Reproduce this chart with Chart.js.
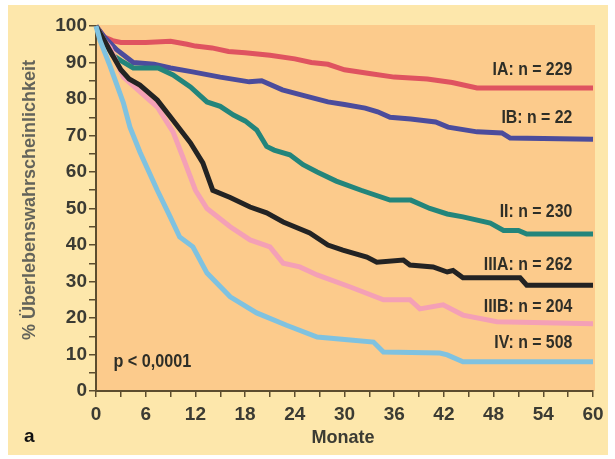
<!DOCTYPE html>
<html>
<head>
<meta charset="utf-8">
<script src="https://cdn.jsdelivr.net/npm/chart.js@4.4.1/dist/chart.umd.min.js"></script>
<style>
  html, body { margin: 0; padding: 0; background: #ffffff; }
  #wrap { position: relative; width: 615px; height: 459px; }
</style>
</head>
<body>
<div id="wrap"><canvas id="survChart" width="615" height="459"></canvas></div>
<script>
// Kaplan-Meier curves (months, % survival)
const iaMonths   = [0, 1, 2, 3, 6, 9, 11, 12, 14, 16, 18, 21, 24, 26, 28, 30, 33, 36, 40, 43, 46, 60];
const iaValues   = [100, 97, 96, 95.5, 95.5, 95.8, 95, 94.5, 94, 93, 92.7, 92, 91, 90, 89.5, 88, 87, 86, 85.5, 84.5, 83, 83];

const ibMonths   = [0, 1, 2.5, 4.5, 7, 9, 11.5, 15, 18.5, 20, 22.5, 25, 28, 30, 32.5, 34, 35.5, 38, 41, 42.5, 46, 49, 50, 60];
const ibValues   = [100, 97, 93.5, 90, 89.5, 88.5, 87.5, 86, 84.7, 85, 82.5, 81, 79.2, 78.5, 77.5, 76.5, 75, 74.5, 73.7, 72.3, 71, 70.7, 69.3, 69];

const iiMonths   = [0, 1, 2, 3, 4.5, 7.5, 9.3, 11.4, 13.4, 15, 16.6, 18, 19.4, 20.6, 21.5, 23.4, 25, 26.7, 29, 32, 35.5, 38, 40.3, 42.4, 44.3, 47.6, 49.2, 51, 52, 60];
const iiValues   = [100, 96, 92, 90.5, 88.5, 88.5, 86.6, 83.3, 79.2, 78, 75.6, 74, 71.5, 67, 66, 64.7, 62, 60, 57.5, 55, 52.3, 52.3, 50, 48.5, 47.7, 46, 44, 44, 43, 43];

const iiiaMonths = [0, 1, 2, 3, 4, 5.3, 7.4, 9.3, 11.4, 12.9, 14.1, 16.2, 18.6, 20.6, 22.6, 25.8, 28, 29.8, 32.7, 33.9, 37.1, 37.9, 40.7, 42.4, 43.1, 44.3, 51.2, 52, 60];
const iiiaValues = [100, 96, 92, 88, 85.5, 83.8, 79.7, 74.2, 68, 62.5, 55, 53, 50.4, 48.8, 46.3, 43.3, 40, 38.6, 36.7, 35.3, 35.9, 34.5, 34, 32.6, 33, 31, 31, 29, 29];

const iiibMonths = [0, 1, 1.7, 3.3, 5.3, 7.4, 9.3, 10.5, 12, 13.4, 16.2, 18.6, 21, 22.6, 24.6, 26.7, 30.7, 34.7, 37.9, 39.1, 41.9, 44.3, 48.4, 60];
const iiibValues = [100, 96, 94, 86, 82, 77.8, 71, 64, 55, 50, 45, 41.4, 39.5, 35, 34, 31.8, 28.5, 25, 25, 22.5, 23.6, 20.8, 19, 18.4];

const ivMonths   = [0, 0.5, 1.7, 3.3, 4.1, 5.3, 7.4, 8.9, 10.1, 11.7, 13.4, 16.2, 19.4, 23, 26.7, 30.7, 33.5, 34.7, 41.5, 42.4, 44.3, 60];
const ivValues   = [100, 96, 89, 79, 72.3, 65.5, 55, 48, 42.2, 39.5, 32.3, 25.8, 21.4, 18, 14.8, 14, 13.4, 10.7, 10.4, 9.9, 8, 8];

const seriesNames  = ['IA: n=229', 'IB: n=22', 'II: n=230', 'IIIA: n=262', 'IIIB: n=204', 'IV: n=508'];
const seriesColors = ['#df5360', '#4b4c9c', '#23857b', '#232323', '#f4a0b6', '#7fc2e0'];
// where the end labels sit (month of right edge, % value)
const labelMonth  = 57.5;
const labelValues = [88, 74.8, 49, 34.5, 23, 13.2];

const xTickLabels = [0, 6, 12, 18, 24, 30, 36, 42, 48, 54, 60];
const yTickLabels = [0, 10, 20, 30, 40, 50, 60, 70, 80, 90, 100];

const axisColor = '#5d4d2e';
const textColor = '#3b3b33';
const fontFam = '"Liberation Sans", Arial, sans-serif';

function toPoints(months, values) {
  return months.map((m, i) => ({ x: m, y: values[i] }));
}

// draws bold text squeezed horizontally, like the condensed face of the original
function condensedText(ctx, text, x, y, align, squeeze) {
  ctx.save();
  ctx.translate(x, y);
  ctx.scale(squeeze, 1);
  ctx.textAlign = align;
  ctx.fillText(text, 0, 0);
  ctx.restore();
}

const allMonths = [iaMonths, ibMonths, iiMonths, iiiaMonths, iiibMonths, ivMonths];
const allValues = [iaValues, ibValues, iiValues, iiiaValues, iiibValues, ivValues];
const drawOrder = [6, 5, 4, 2, 3, 1];

const datasets = seriesNames.map((name, i) => ({
  label: name,
  data: toPoints(allMonths[i], allValues[i]),
  borderColor: seriesColors[i],
  borderWidth: 5,
  pointRadius: 0,
  fill: false,
  tension: 0,
  clip: 8,
  order: drawOrder[i]
}));

const backdrop = {
  id: 'backdrop',
  beforeDraw(chart) {
    const ctx = chart.ctx;
    const a = chart.chartArea;
    ctx.save();
    ctx.fillStyle = '#fde7ab';
    ctx.fillRect(8, 5, 600, 450);
    ctx.fillStyle = '#fccb8c';
    ctx.fillRect(a.left, a.top - 1, a.right - a.left + 2, a.bottom - a.top + 1);
    ctx.restore();
  },
  afterDraw(chart) {
    const ctx = chart.ctx;
    const xs = chart.scales.x, ys = chart.scales.y;
    ctx.save();
    ctx.textBaseline = 'middle';

    // series labels at the right
    ctx.fillStyle = '#2e2e27';
    ctx.font = 'bold 18px ' + fontFam;
    seriesNames.forEach((name, i) => {
      condensedText(ctx, name.replace('=', ' = '), xs.getPixelForValue(labelMonth), ys.getPixelForValue(labelValues[i]), 'right', 0.88);
    });

    // p value
    condensedText(ctx, 'p < 0,0001', xs.getPixelForValue(2.1), ys.getPixelForValue(8), 'left', 0.9);

    // x title
    ctx.fillStyle = textColor;
    ctx.font = 'bold 19px ' + fontFam;
    condensedText(ctx, 'Monate', 343, 438, 'center', 0.95);

    // y title, stretched to the length it has in the original
    ctx.fillStyle = '#63635a';
    const yTitle = '% Überlebenswahrscheinlichkeit';
    const w = ctx.measureText(yTitle).width;
    ctx.translate(30, 200);
    ctx.rotate(-Math.PI / 2);
    condensedText(ctx, yTitle, 0, 0, 'center', 280 / w);
    ctx.restore();

    ctx.save();
    ctx.fillStyle = '#111111';
    ctx.font = 'bold 19px ' + fontFam;
    ctx.textAlign = 'left';
    ctx.textBaseline = 'middle';
    ctx.fillText('a', 24, 437);
    ctx.restore();
  }
};

const ctx = document.getElementById('survChart').getContext('2d');
new Chart(ctx, {
  type: 'line',
  data: { datasets: datasets },
  options: {
    responsive: false,
    animation: false,
    layout: { padding: { left: 0, right: 22, top: 26, bottom: 0 } },
    plugins: {
      legend: { display: false },
      tooltip: { enabled: false }
    },
    scales: {
      x: {
        type: 'linear',
        min: 0,
        max: 60,
        afterFit(scale) { scale.height = 68; },
        border: { color: axisColor, width: 2 },
        grid: { drawOnChartArea: false, color: axisColor, tickLength: 6, lineWidth: 1.5 },
        ticks: {
          stepSize: 3,
          autoSkip: false,
          maxRotation: 0,
          padding: 6,
          color: textColor,
          font: { family: fontFam, size: 19, weight: 'bold' },
          callback: v => xTickLabels.includes(v) ? String(v) : ''
        }
      },
      y: {
        min: 0,
        max: 100,
        afterFit(scale) { scale.width = 96; },
        border: { color: axisColor, width: 2 },
        grid: { drawOnChartArea: false, color: axisColor, tickLength: 7, lineWidth: 1.5 },
        ticks: {
          stepSize: 5,
          autoSkip: false,
          padding: 2,
          color: textColor,
          font: { family: fontFam, size: 19, weight: 'bold' },
          callback: v => yTickLabels.includes(v) ? String(v) : ''
        }
      }
    }
  },
  plugins: [backdrop]
});
</script>
</body>
</html>
